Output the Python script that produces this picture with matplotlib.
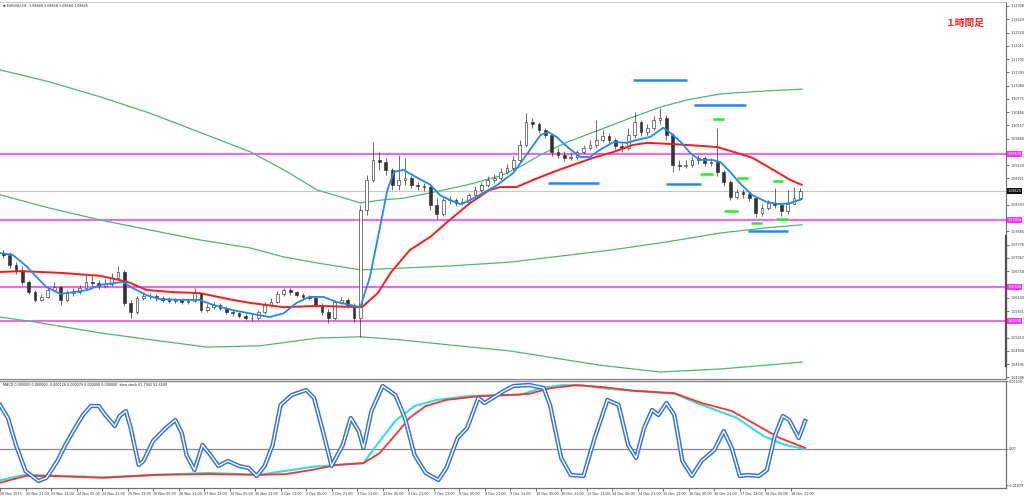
import matplotlib
matplotlib.use("Agg")
import matplotlib.pyplot as plt
from matplotlib.lines import Line2D
import numpy as np

plt.rcParams['font.family'] = ['DejaVu Sans']

# ---------------- data ----------------
bars_per_candle = 4
first_open = 1.0718
candle_close = [1.0714,1.0690,1.0679,1.0651,1.0627,1.0609,1.0616,1.0632,1.0639,1.0609,
 1.0625,1.0627,1.0637,1.0651,1.0648,1.0641,1.0646,1.0660,1.0674,1.0602,
 1.0581,1.0613,1.0618,1.0618,1.0613,1.0609,1.0606,1.0609,1.0604,1.0606,
 1.0625,1.0585,1.0592,1.0597,1.0590,1.0581,1.0578,1.0572,1.0567,1.0567,
 1.0581,1.0597,1.0604,1.0623,1.0632,1.0627,1.0620,1.0616,1.0613,1.0597,
 1.0581,1.0567,1.0604,1.0609,1.0597,1.0567,1.0819,1.0888,1.0935,1.0930,
 1.0912,1.0877,1.0888,1.0893,1.0877,1.0874,1.0872,1.0830,1.0809,1.0842,
 1.0842,1.0835,1.0837,1.0853,1.0865,1.0877,1.0888,1.0893,1.0907,1.0916,
 1.0935,1.0970,1.1024,1.1019,1.1005,1.0993,1.0954,1.0947,1.0940,1.0942,
 1.0954,1.0963,1.0970,1.0982,1.0991,1.0982,1.0968,1.0963,1.0993,1.1024,
 1.1000,1.1010,1.1028,1.1033,1.0993,1.0923,1.0921,1.0923,1.0935,1.0940,
 1.0928,1.0930,1.0907,1.0884,1.0849,1.0860,1.0856,1.0846,1.0812,1.0823,
 1.0835,1.0830,1.0816,1.0832,1.0846,1.0862]
candle_high = [1.0725,1.0721,1.0697,1.0688,1.0655,1.0632,1.0623,1.0637,1.0651,1.0641,
 1.0632,1.0637,1.0644,1.0667,1.0665,1.0655,1.0658,1.0672,1.0688,1.0679,
 1.0609,1.0618,1.0627,1.0625,1.0623,1.0618,1.0616,1.0613,1.0613,1.0613,
 1.0637,1.0627,1.0599,1.0604,1.0602,1.0595,1.0585,1.0581,1.0576,1.0576,
 1.0585,1.0604,1.0613,1.0630,1.0637,1.0637,1.0630,1.0625,1.0620,1.0618,
 1.0602,1.0588,1.0609,1.0616,1.0613,1.0602,1.0830,1.0900,1.0977,1.0954,
 1.0940,1.0916,1.0947,1.0940,1.0898,1.0884,1.0881,1.0877,1.0846,1.0846,
 1.0851,1.0846,1.0846,1.0858,1.0874,1.0884,1.0898,1.0902,1.0916,1.0926,
 1.0944,1.0982,1.1044,1.1033,1.1024,1.1010,1.0996,1.0963,1.0956,1.0954,
 1.0958,1.0970,1.0982,1.1028,1.1005,1.0998,1.0986,1.0975,1.1010,1.1047,
 1.1028,1.1019,1.1037,1.1056,1.1040,1.0998,1.0935,1.0935,1.0944,1.0947,
 1.0944,1.0940,1.1010,1.0912,1.0888,1.0867,1.0867,1.0860,1.0851,1.0832,
 1.0842,1.0870,1.0835,1.0865,1.0872,1.0870]
candle_low = [1.0707,1.0683,1.0669,1.0644,1.0623,1.0604,1.0606,1.0613,1.0627,1.0597,
 1.0604,1.0618,1.0623,1.0632,1.0639,1.0634,1.0637,1.0641,1.0655,1.0595,
 1.0567,1.0576,1.0609,1.0611,1.0606,1.0604,1.0602,1.0602,1.0599,1.0599,
 1.0604,1.0581,1.0581,1.0588,1.0585,1.0576,1.0572,1.0567,1.0562,1.0560,
 1.0562,1.0576,1.0592,1.0602,1.0618,1.0620,1.0616,1.0611,1.0609,1.0592,
 1.0574,1.0555,1.0562,1.0599,1.0590,1.0558,1.0523,1.0807,1.0884,1.0912,
 1.0900,1.0865,1.0865,1.0877,1.0870,1.0865,1.0863,1.0819,1.0798,1.0805,
 1.0832,1.0828,1.0830,1.0832,1.0849,1.0860,1.0872,1.0881,1.0888,1.0902,
 1.0912,1.0930,1.0965,1.1010,1.0998,1.0986,1.0944,1.0940,1.0933,1.0935,
 1.0935,1.0949,1.0958,1.0963,1.0977,1.0970,1.0961,1.0954,1.0958,1.0986,
 1.0991,1.0993,1.1005,1.1019,1.0982,1.0907,1.0912,1.0916,1.0919,1.0926,
 1.0921,1.0921,1.0898,1.0874,1.0842,1.0844,1.0846,1.0839,1.0802,1.0805,
 1.0819,1.0823,1.0805,1.0809,1.0832,1.0842]

blue_ma_bar = [0,8,17,23,29,38,46,55,63,71,77,83,92,100,113,125,134,146,159,169,
 178,186,194,203,211,220,226,232,238,243,247,253,262,270,276,282,289,295,303,312,
 322,331,339,344,349,356,364,370,376,385,393,400,408,416,420,427,433,439,447,452,
 458,464,472,481,489,496,503]
blue_ma = [1.0718,1.0714,1.0686,1.0662,1.0639,1.0623,1.0627,1.0632,1.0644,1.0648,
 1.0651,1.0637,1.0620,1.0611,1.0609,1.0609,1.0597,1.0585,1.0576,1.0569,
 1.0578,1.0602,1.0616,1.0616,1.0604,1.0597,1.0592,1.0662,1.0772,1.0865,
 1.0907,1.0912,1.0893,1.0877,1.0853,1.0842,1.0832,1.0842,1.0858,1.0877,
 1.0905,1.0951,1.0993,1.1000,1.0989,1.0965,1.0942,1.0942,1.0958,1.0977,
 1.0975,1.0982,1.0989,1.1010,1.1000,1.0977,1.0951,1.0935,1.0935,1.0930,
 1.0907,1.0881,1.0853,1.0837,1.0832,1.0835,1.0844]

red_ma_bar = [0,13,38,63,80,92,109,125,146,157,178,199,227,237,245,257,270,282,295,307,
 314,324,334,347,359,372,385,397,406,422,439,450,460,472,485,496,503]
red_ma = [1.0674,1.0676,1.0672,1.0665,1.0651,1.0632,1.0627,1.0625,1.0609,1.0602,
 1.0592,1.0595,1.0592,1.0625,1.0672,1.0725,1.0756,1.0795,1.0835,1.0865,
 1.0872,1.0872,1.0888,1.0907,1.0923,1.0940,1.0954,1.0970,1.0975,1.0972,
 1.0968,1.0965,1.0954,1.0940,1.0912,1.0888,1.0877]

green_up_bar = [0,31,63,94,125,157,178,199,226,240,253,272,293,314,326,339,356,376,397,414,431,452,481,503]
green_up = [1.1145,1.1117,1.1082,1.1044,1.1000,1.0954,1.0912,1.0865,1.0835,1.0842,1.0846,1.0860,
 1.0877,1.0898,1.0919,1.0947,1.0977,1.1005,1.1035,1.1058,1.1075,1.1089,1.1096,1.1100]
green_mid_bar = [0,31,63,94,125,157,178,199,226,251,282,320,383,418,452,481,503]
green_mid = [1.0854,1.0823,1.0795,1.0772,1.0749,1.0730,1.0709,1.0695,1.0679,1.0683,1.0688,
 1.0697,1.0725,1.0744,1.0765,1.0777,1.0784]
green_low_bar = [0,21,63,105,130,163,199,226,251,282,320,376,414,452,503]
green_low = [1.0569,1.0558,1.0532,1.0511,1.0499,1.0502,1.0520,1.0523,1.0516,1.0504,1.0490,
 1.0457,1.0441,1.0448,1.0464]

magenta_levels = [1.0949, 1.0795, 1.0638, 1.0559]
current_price = 1.08625

blue_lvl = [1.1121, 1.1063, 1.0881, 1.0879, 1.0770]
blue_lvl_from = [397, 435, 344, 418, 469]
blue_lvl_to = [431, 468, 376, 440, 494]
green_lvl = [1.1031, 1.0902, 1.0893, 1.0886, 1.0816, 1.0788, 1.0798]
green_lvl_from = [447, 439, 462, 485, 454, 471, 487]
green_lvl_to = [454, 447, 469, 491, 463, 478, 494]

stoch_bar = [0,5,10,16,24,29,36,41,46,52,57,62,66,72,75,79,82,87,90,96,
 104,110,114,117,122,127,132,137,143,150,156,161,166,171,176,183,192,197,202,208,
 215,220,225,228,233,240,248,254,260,267,275,280,287,293,300,304,309,316,322,332,
 341,345,352,358,366,373,381,388,394,399,404,409,413,418,423,428,434,440,448,454,
 459,464,469,476,481,486,491,495,501,505]
stoch_k = [79,66,39,13,3,6,23,39,53,69,78,78,69,58,68,73,56,19,23,43,
 56,64,51,29,14,39,29,18,23,18,16,8,18,39,79,89,94,86,56,18,
 39,66,53,36,73,98,89,66,29,11,4,16,46,56,86,81,86,93,98,99,
 96,79,26,9,8,46,84,79,39,26,56,74,69,81,69,23,8,23,34,53,
 36,8,9,8,14,48,68,64,46,63]

macd_sig_bar = [0,16,33,65,98,130,163,179,196,211,228,238,248,257,267,280,300,319,332,345,
 361,378,397,423,440,459,476,489,505]
macd_sig = [-0.0055,-0.0044,-0.0044,-0.0047,-0.0042,-0.0041,-0.0042,-0.0041,-0.0034,-0.0026,
 -0.0023,-0.0007,0.0023,0.0051,0.0070,0.0080,0.0086,0.0088,0.0090,0.0099,
 0.0104,0.0101,0.0095,0.0091,0.0075,0.0062,0.0037,0.0018,0.0002]
macd_main_bar = [0,16,65,130,163,196,228,235,248,260,274,293,312,326,339,352,365,378,397,423,
 440,462,479,492,505]
macd_main = [-0.0051,-0.0042,-0.0046,-0.0039,-0.0042,-0.0029,-0.0023,0.0002,0.0046,0.0070,
 0.0080,0.0086,0.0088,0.0088,0.0099,0.0104,0.0104,0.0099,0.0095,0.0090,
 0.0072,0.0051,0.0021,0.0007,0.0000]

# right-scale labels (those hidden behind the level boxes in the original are left out)
price_ticks = [1.12938,1.12629,1.12320,1.12011,1.11702,1.11393,1.11084,1.10775,1.10466,1.10157,
 1.09848,1.09230,1.08921,1.08303,1.07685,1.07376,1.07067,
 1.06758,1.06140,1.05831,1.05213,1.04904,1.04595,1.04286]

time_labels = ["20 Nov 2015","20 Nov 21:00","23 Nov 13:00","24 Nov 05:00","24 Nov 21:00",
 "25 Nov 13:00","26 Nov 05:00","26 Nov 21:00","27 Nov 13:00","30 Nov 05:00","30 Nov 21:00",
 "1 Dec 13:00","2 Dec 05:00","2 Dec 21:00","3 Dec 13:00","4 Dec 05:00","4 Dec 21:00",
 "7 Dec 13:00","8 Dec 05:00","8 Dec 21:00","9 Dec 13:00","10 Dec 05:00","10 Dec 21:00",
 "11 Dec 13:00","14 Dec 05:00","14 Dec 21:00","15 Dec 13:00","16 Dec 05:00","16 Dec 21:00",
 "17 Dec 13:00","18 Dec 05:00","18 Dec 21:00"]
time_label_step = 16

macd_axis_labels = ["0.01109", "0.00", "-0.01079"]

header_text = "EURUSD,H1  1.08640 1.08658 1.08584 1.08625"
sub_header_text = "MACD 0.000000 0.000000 -0.000126 0.000079 0.000000 0.000000  slow stoch 61.7942 52.6509"
timeframe_text = "１時間足"

# ---------------- figure ----------------
W, H = 1024, 496
fig = plt.figure(figsize=(W/100, H/100), dpi=100, facecolor='white')

def rect(x0, y0, x1, y1):
    return [x0/W, 1-y1/H, (x1-x0)/W, (y1-y0)/H]

ax = fig.add_axes(rect(0, 2, 1006, 379))
ax2 = fig.add_axes(rect(0, 381, 1006, 488))
ax3 = ax2.twinx()

XMAX = 631
TS = 2.4  # small text size

# ---- main panel ----
ax.set_xlim(0, XMAX)
ax.set_ylim(1.04247, 1.13031)

for lv in magenta_levels:
    ax.axhline(lv, color='#ff33ff', lw=1.1, zorder=1)
ax.axhline(current_price, color='#c8c8c8', lw=0.8, zorder=1)

ax.plot(green_up_bar, green_up, color='#4cb870', lw=0.9, zorder=2)
ax.plot(green_mid_bar, green_mid, color='#4cb870', lw=0.9, zorder=2)
ax.plot(green_low_bar, green_low, color='#4cb870', lw=0.9, zorder=2)

closes = np.array(candle_close)
opens = np.concatenate([[first_open], closes[:-1]])
highs = np.array(candle_high)
lows = np.array(candle_low)
xc = np.arange(len(closes)) * bars_per_candle + bars_per_candle / 2
ax.vlines(xc, lows, highs, color='#333333', lw=0.5, zorder=3)
up = closes >= opens
bottoms = np.minimum(opens, closes)
heights = np.maximum(np.abs(closes - opens), 0.00005)
ax.bar(xc[up], heights[up], bottom=bottoms[up], width=1.7, color='white',
       edgecolor='#333333', linewidth=0.45, zorder=4)
ax.bar(xc[~up], heights[~up], bottom=bottoms[~up], width=1.7, color='#333333',
       edgecolor='#333333', linewidth=0.45, zorder=4)

ax.plot(red_ma_bar, red_ma, color='#ff1a1a', lw=1.4, zorder=5, solid_capstyle='round')
ax.plot(blue_ma_bar, blue_ma, color='#1e88ff', lw=1.3, zorder=6, solid_capstyle='round')

ax.hlines(blue_lvl, blue_lvl_from, blue_lvl_to, color='#1e88ff', lw=1.8, zorder=6)
ax.hlines(green_lvl, green_lvl_from, green_lvl_to, color='#22ee22', lw=1.8, zorder=6)

ax.yaxis.tick_right()
ax.set_yticks(price_ticks)
ax.set_yticklabels([f"{v:.5f}" for v in price_ticks])
ax.tick_params(axis='y', labelsize=TS, length=2, width=0.5, pad=1, colors='#333333')
ax.set_xticks([])
ax.spines['left'].set_visible(False)
ax.spines['top'].set_color('#b0b0b0'); ax.spines['top'].set_linewidth(0.5)
ax.spines['right'].set_color('#707070'); ax.spines['right'].set_linewidth(0.8)
ax.spines['bottom'].set_color('#8a8a8a'); ax.spines['bottom'].set_linewidth(0.9)

ytr = ax.get_yaxis_transform()
for lv in magenta_levels:
    ax.text(1.0015, lv, f"{lv:.5f}", transform=ytr, ha='left', va='center', fontsize=TS,
            color='white', zorder=10, clip_on=False,
            bbox=dict(facecolor='#ff33ff', edgecolor='none', pad=0.7))
ax.text(1.0015, current_price, f"{current_price:.5f}", transform=ytr, ha='left', va='center',
        fontsize=TS, color='white', zorder=10, clip_on=False,
        bbox=dict(facecolor='#101010', edgecolor='none', pad=0.7))

fig.text(3/W, 1-6/H, "▼ " + header_text, fontsize=TS, va='center', ha='left', color='#222222')
fig.text(965/W, 1-23/H, timeframe_text, fontsize=7, fontweight='bold', color='#ff2020',
         ha='center', va='center', family=['Noto Sans CJK JP', 'DejaVu Sans'])

# ---- lower panel ----
ax2.set_xlim(0, XMAX)
ax2.set_ylim(-4, 103)
ax3.set_ylim(-0.006357, 0.011084)
ax3.set_zorder(1)
ax2.set_zorder(2)
ax2.patch.set_visible(False)

ax3.axhline(0, color='#8a8a8a', lw=0.9)
ax3.plot(macd_main_bar, macd_main, color='#30e0e0', lw=1.5)
ax3.plot(macd_sig_bar, macd_sig, color='#ff3030', lw=1.3)

ax2.plot(stoch_bar, stoch_k, color='#2f72e0', lw=3.1, solid_joinstyle='round')
ax2.plot(stoch_bar, stoch_k, color='white', lw=1.0, solid_joinstyle='round')

ax2.set_yticks([])
ax3.set_yticks([0.01108, 0.0, -0.00587])
ax3.set_yticklabels(macd_axis_labels)
ax3.tick_params(axis='y', labelsize=TS, length=1.5, width=0.5, pad=0.6, colors='#333333')

ticks = [i * time_label_step for i in range(len(time_labels))]
ax2.set_xticks(ticks)
ax2.set_xticklabels(time_labels)
ax2.tick_params(axis='x', labelsize=TS, length=2, width=0.5, pad=0.8, colors='#333333')
for lbl in ax2.get_xticklabels():
    lbl.set_ha('left')

for a in (ax2, ax3):
    a.spines['left'].set_visible(False)
    a.spines['top'].set_color('#8a8a8a'); a.spines['top'].set_linewidth(0.9)
    a.spines['right'].set_color('#707070'); a.spines['right'].set_linewidth(0.8)
    a.spines['bottom'].set_color('#707070'); a.spines['bottom'].set_linewidth(0.8)

fig.text(3/W, 1-385/H, sub_header_text, fontsize=TS, va='center', ha='left', color='#222222')

fig.add_artist(Line2D([1006/W, 1006/W], [1-236/H, 1-366/H], lw=1.6, color='#505050'))

fig.savefig('out.png', dpi=100, facecolor='white')
